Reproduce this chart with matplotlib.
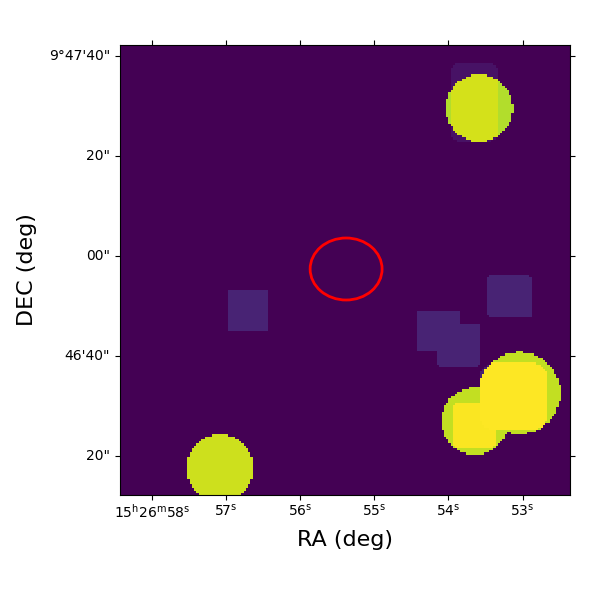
import matplotlib
matplotlib.use("Agg")
import matplotlib.pyplot as plt
import numpy as np
from matplotlib.patches import Ellipse

# RA in seconds past 15h26m, DEC in arcsec relative to 9d47m00s
ra_lim = [58.43, 52.36]
dec_lim = [-47.8, 42.2]
arcsec_per_s = 14.84

# circles: ra, dec, radius, value
circle_ra = [53.58, 57.08, 53.04, 53.64]
circle_dec = [29.6, -42.4, -27.4, -33.0]
circle_r = [6.7, 6.7, 8.2, 6.7]
circle_val = [0.885, 0.925, 0.91, 0.91]

# rounded squares: ra left, ra right, dec top, dec bottom, corner, value
sq_ra0 = [53.47, 54.43, 54.16, 56.97, 53.98, 53.58, 53.95]
sq_ra1 = [52.88, 53.85, 53.58, 56.43, 53.32, 52.66, 53.35]
sq_dec0 = [-3.8, -10.8, -13.4, -6.8, 38.6, -21.4, -29.2]
sq_dec1 = [-12.4, -19.2, -22.0, -14.8, 23.0, -34.8, -38.4]
sq_corner = [0.8, 0.8, 0.8, 0.3, 2.0, 3.0, 1.5]
sq_val = [0.1, 0.1, 0.1, 0.1, 0.05, 0.09, 0.085]

# ellipse region
ell_ra = 55.38
ell_dec = -2.6
ell_w = 72 / 74.2
ell_h = 12.4

dec_ticks = [40, 20, 0, -20, -40]
dec_labels = ["9°47'40\"", '20"', '00"', "46'40\"", '20"']
ra_ticks = [58, 57, 56, 55, 54, 53]
ra_labels = [r"15$^{\mathrm{h}}$26$^{\mathrm{m}}$58$^{\mathrm{s}}$",
             r"57$^{\mathrm{s}}$", r"56$^{\mathrm{s}}$", r"55$^{\mathrm{s}}$",
             r"54$^{\mathrm{s}}$", r"53$^{\mathrm{s}}$"]

# image grid
n = 200
ra_c = np.linspace(ra_lim[0], ra_lim[1], n, endpoint=False) + (ra_lim[1] - ra_lim[0]) / n / 2
dec_c = np.linspace(dec_lim[0], dec_lim[1], n, endpoint=False) + (dec_lim[1] - dec_lim[0]) / n / 2
xx, yy = np.meshgrid(ra_c * arcsec_per_s, dec_c)

circ = np.zeros((n, n))
for ra, dec, r, v in zip(circle_ra, circle_dec, circle_r, circle_val):
    d = np.hypot(xx - ra * arcsec_per_s, yy - dec)
    circ = np.where(d <= r, np.maximum(circ, v), circ)

sq = np.zeros((n, n))
for a0, a1, d0, d1, c, v in zip(sq_ra0, sq_ra1, sq_dec0, sq_dec1, sq_corner, sq_val):
    cx = (a0 + a1) / 2 * arcsec_per_s
    cy = (d0 + d1) / 2
    hx = (a0 - a1) / 2 * arcsec_per_s
    hy = (d0 - d1) / 2
    qx = np.maximum(np.abs(xx - cx) - hx + c, 0)
    qy = np.maximum(np.abs(yy - cy) - hy + c, 0)
    sq = np.where(np.hypot(qx, qy) <= c, np.maximum(sq, v), sq)

img = np.clip(circ + sq, 0, 1)

fig = plt.figure(figsize=(6, 6), dpi=100)
ax = fig.add_axes([0.2, 0.175, 0.75, 0.75])
ax.imshow(img, origin="lower", cmap="viridis", vmin=0, vmax=1, aspect="auto",
          extent=[ra_lim[0], ra_lim[1], dec_lim[0], dec_lim[1]], interpolation="nearest")
ax.add_patch(Ellipse((ell_ra, ell_dec), ell_w, ell_h, fill=False, edgecolor="red", linewidth=2))

ax.set_xlim(ra_lim)
ax.set_ylim(dec_lim)
ax.set_xticks(ra_ticks)
ax.set_xticklabels(ra_labels)
ax.set_yticks(dec_ticks)
ax.set_yticklabels(dec_labels, va="center")
ax.tick_params(top=True, right=True, labelsize=10)
ax.tick_params(axis="x", pad=2)
ax.set_xlabel("RA (deg)", fontsize=16, labelpad=7)
ax.set_ylabel("DEC (deg)", fontsize=16, labelpad=9)

fig.savefig("out.png", dpi=100)
